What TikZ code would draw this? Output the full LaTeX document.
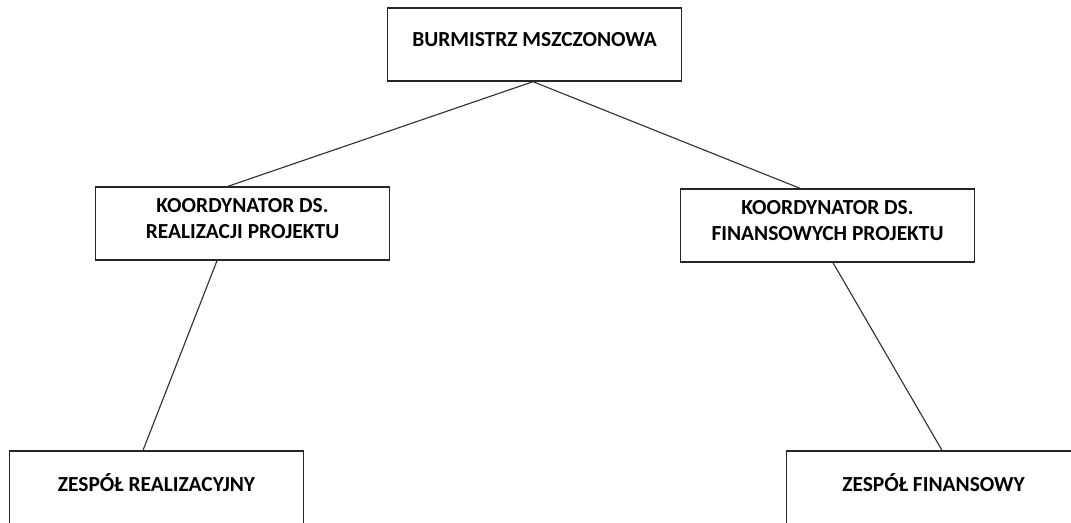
\documentclass[tikz,border=0pt]{standalone}
\usepackage{fontspec}
\setmainfont{Carlito}

\begin{document}
\begin{tikzpicture}[x=0.02cm, y=-0.02cm,
  box/.style={draw=black!85, line width=0.8pt, minimum width=5.88cm, minimum height=1.46cm,
    inner sep=0pt, align=center, text depth=5.3pt, font=\fontsize{12.2}{14.8}\selectfont\bfseries},
  link/.style={draw=black!80, line width=0.65pt}]
\useasboundingbox (0,0) rectangle (1071,523);
\clip (0,0) rectangle (1071,523);
\node[box] (burmistrz) at (534.5,44.5) {BURMISTRZ MSZCZONOWA};
\node[box] (kRealizacja) at (242.5,223.5) {KOORDYNATOR DS.\\REALIZACJI PROJEKTU};
\node[box] (kFinanse) at (827.5,225.5) {KOORDYNATOR DS.\\FINANSOWYCH PROJEKTU};
\node[box] (zRealizacja) at (156.5,487.5) {ZESPÓŁ REALIZACYJNY};
\node[box] (zFinanse) at (933.5,487.5) {ZESPÓŁ FINANSOWY};
\draw[link] ([xshift=-0.03cm]burmistrz.south) -- ([xshift=-0.29cm]kRealizacja.north);
\draw[link] ([xshift=-0.03cm]burmistrz.south) -- ([xshift=-0.55cm]kFinanse.north);
\draw[link] ([xshift=-0.51cm]kRealizacja.south) -- ([xshift=-0.27cm]zRealizacja.north);
\draw[link] ([xshift=0.11cm]kFinanse.south) -- ([xshift=0.17cm]zFinanse.north);
\end{tikzpicture}
\end{document}
